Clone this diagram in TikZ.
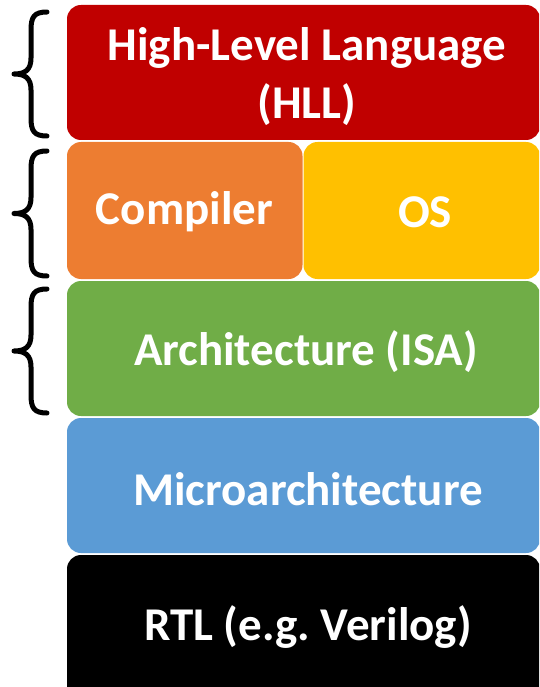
\documentclass[tikz,border=0pt]{standalone}
\usepackage{fontspec}
\setmainfont{Carlito}
\definecolor{hllred}{HTML}{C00000}
\definecolor{comporange}{HTML}{ED7D31}
\definecolor{osyellow}{HTML}{FFC000}
\definecolor{archgreen}{HTML}{70AD47}
\definecolor{microblue}{HTML}{5B9BD5}
\frenchspacing
\begin{document}
\begin{tikzpicture}[x=1pt,y=-1pt,
  layer/.style={rounded corners=14pt},
  lbl/.style={text=white,font=\fontsize{47}{58}\selectfont\bfseries,align=center,inner sep=0pt},
  brace/.style={line width=5pt,line cap=round,line join=round}]
\useasboundingbox (0,0) rectangle (539,687);
\clip (0,0) rectangle (539,687);
% layers
\fill[layer,hllred] (67,5) rectangle (540,140);
\fill[layer,comporange] (67,142) rectangle (302.5,279);
\fill[layer,osyellow] (303.5,142) rectangle (540,279);
\fill[layer,archgreen] (67,281) rectangle (540,416);
\fill[layer,microblue] (67,418) rectangle (540,553);
\fill[layer,black] (67,555) rectangle (540,700);
% labels
\node[lbl] (hll) at (307,77) {High-Level Language\\(HLL)};
\node[lbl] (comp) at (184.5,212) {Compiler};
\node[lbl] (os) at (425,212) {OS};
\node[lbl] (arch) at (306,352) {Architecture (ISA)};
\node[lbl] (micro) at (308,489) {Microarchitecture};
\node[lbl] (rtl) at (308,627) {RTL (e.g. Verilog)};
% braces
\foreach \t/\b in {12/136, 151/276, 289/413}{
  \pgfmathsetmacro{\m}{(\t+\b)/2}
  \draw[brace] (47,\t) .. controls (34,\t) and (31,\t+5) .. (31,\t+18)
    -- (31,\m-16) .. controls (31,\m-4) and (25,\m) .. (14,\m)
    .. controls (25,\m) and (31,\m+4) .. (31,\m+16)
    -- (31,\b-18) .. controls (31,\b-5) and (34,\b) .. (47,\b);
}
\end{tikzpicture}
\end{document}
